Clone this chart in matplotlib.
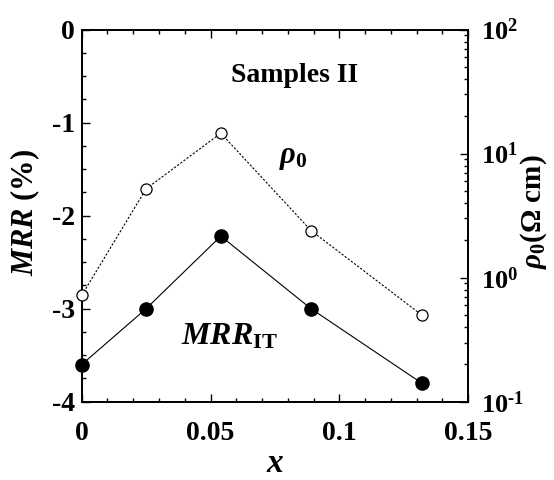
import numpy as np
import matplotlib.pyplot as plt
from matplotlib.ticker import MultipleLocator, LogLocator, NullFormatter

# data
x_vals = [0.0, 0.025, 0.054, 0.089, 0.132]
mrr_vals = [-3.6, -3.0, -2.22, -3.0, -3.8]
rho_vals = [0.72, 5.2, 14.6, 2.4, 0.50]

x_ticks = [0, 0.05, 0.1, 0.15]
x_ticklabels = ['0', '0.05', '0.1', '0.15']
mrr_ticks = [-4, -3, -2, -1, 0]
mrr_ticklabels = ['-4', '-3', '-2', '-1', '0']
rho_ticks = [0.1, 1, 10, 100]
rho_ticklabels = [r'$\mathbf{10^{\text{-}1}}$', r'$\mathbf{10^{0}}$',
                  r'$\mathbf{10^{1}}$', r'$\mathbf{10^{2}}$']

plt.rcParams['font.family'] = ['Liberation Serif', 'DejaVu Serif']
plt.rcParams['mathtext.fontset'] = 'custom'
plt.rcParams['mathtext.rm'] = 'Liberation Serif:bold'
plt.rcParams['mathtext.it'] = 'Liberation Serif:italic:bold'
plt.rcParams['mathtext.bf'] = 'Liberation Serif:bold'

fig = plt.figure(figsize=(5.54, 4.8), dpi=100)
ax = fig.add_axes([0.1475, 0.163, 0.6975, 0.7755])
ax2 = ax.twinx()

# MRR (left axis)
ax.plot(x_vals, mrr_vals, '-', color='k', lw=0.8, marker='o',
        markersize=9.5, markerfacecolor='k', markeredgecolor='k',
        clip_on=False, zorder=5)
# rho_0 (right axis, log)
ax2.plot(x_vals, rho_vals, color='k', lw=0.8, linestyle=(0, (2, 1.5)),
         marker='o', markersize=8, markerfacecolor='white',
         markeredgecolor='k', markeredgewidth=0.9, clip_on=False, zorder=5)

ax.set_xlim(0, 0.15)
ax.set_ylim(-4, 0)
ax2.set_yscale('log')
ax2.set_ylim(0.1, 100)

ax.set_xticks(x_ticks)
ax.set_xticklabels(x_ticklabels)
ax.set_yticks(mrr_ticks)
ax.set_yticklabels(mrr_ticklabels)
ax.xaxis.set_minor_locator(MultipleLocator(0.01))
ax.yaxis.set_minor_locator(MultipleLocator(0.25))

ax2.set_yticks(rho_ticks)
ax2.set_yticklabels(rho_ticklabels)
ax2.yaxis.set_minor_locator(LogLocator(base=10, subs=np.arange(2, 10)))
ax2.yaxis.set_minor_formatter(NullFormatter())

for a in (ax, ax2):
    a.tick_params(which='both', direction='in', width=1.0)
    a.tick_params(which='major', length=6)
    a.tick_params(which='minor', length=3)
    for s in a.spines.values():
        s.set_linewidth(1.3)
ax.tick_params(axis='x', which='both', top=True)
ax.tick_params(axis='y', which='both', right=False)
ax.tick_params(axis='y', labelsize=20, pad=5)
ax.tick_params(axis='x', labelsize=20, pad=14)
ax2.tick_params(axis='y', labelsize=19, pad=9)
for lab in ax.get_xticklabels() + ax.get_yticklabels():
    lab.set_fontweight('bold')

ax.set_xlabel(r'$x$', fontsize=24, labelpad=2)
ax.set_ylabel(r'$MRR$ (%)', fontsize=22, fontweight='bold')
ax.yaxis.set_label_coords(-0.103, 0.51)
ax2.set_ylabel(r'$\rho_0$($\Omega$ cm)', fontsize=21, fontweight='bold')
ax2.yaxis.set_label_coords(1.129, 0.51)

ax.text(0.0825, -0.49, 'Samples II', fontsize=20, fontweight='bold',
        ha='center', va='center')
ax.text(0.082, -1.38, r'$\rho_0$', fontsize=22, ha='center', va='center')
ax.text(0.0575, -3.3, r'$MRR_{\mathrm{IT}}$', fontsize=23, ha='center',
        va='center')

fig.savefig('out.png', dpi=100)
